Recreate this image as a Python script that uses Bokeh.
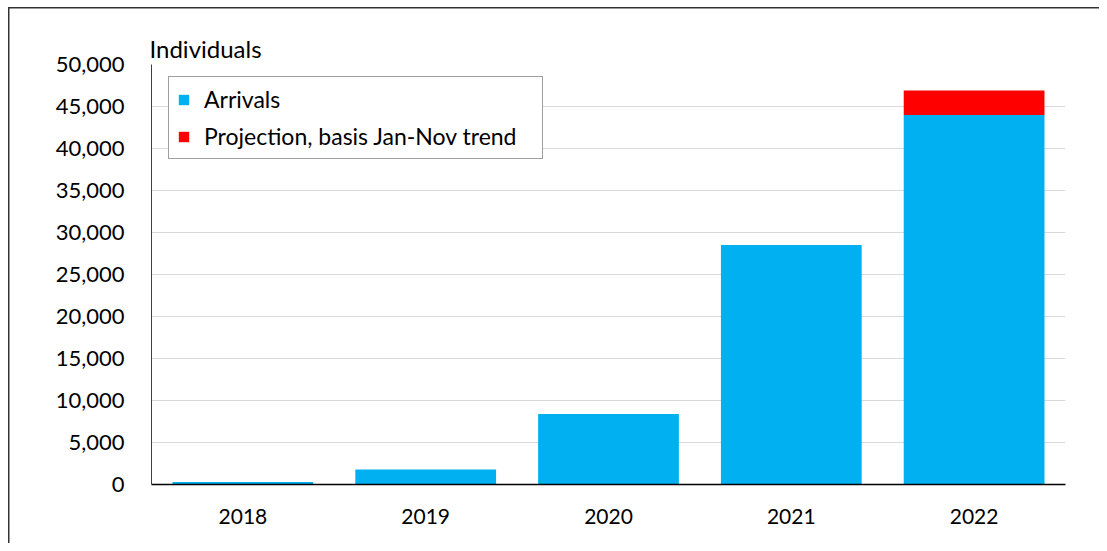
from bokeh.plotting import figure
from bokeh.models import Range1d, FixedTicker, NumeralTickFormatter, Legend, LegendItem, ColumnDataSource
from bokeh.embed import file_html
from bokeh.resources import INLINE

years = ["2018", "2019", "2020", "2021", "2022"]
arrivals = [300, 1800, 8400, 28500, 44000]
projection = [0, 0, 0, 0, 2900]
y_ticks = [0, 5000, 10000, 15000, 20000, 25000, 30000, 35000, 40000, 45000, 50000]

FONT = "Lato"
src = ColumnDataSource(dict(years=years, arrivals=arrivals, projection=projection))

p = figure(x_range=years, width=1099, height=543, output_backend="svg",
           toolbar_location=None, min_border_left=151, min_border_right=34,
           min_border_top=64, min_border_bottom=59,
           title="Individuals")
p.border_fill_color = None
p.styles = {"background": "linear-gradient(#333,#333) 8px 7px / 1.5px 100% no-repeat, "
                          "linear-gradient(#333,#333) 8px 7px / 100% 1.5px no-repeat, #ffffff"}
p.outline_line_color = None
p.y_range = Range1d(0, 50000)

p.title.align = "left"
p.title.offset = -2
p.title.standoff = 3
p.title.text_font = FONT
p.title.text_font_style = "normal"
p.title.text_font_size = "24px"
p.title.text_color = "#000000"

rs = p.vbar_stack(["arrivals", "projection"], x="years", width=0.77, source=src,
                  color=["#00B0F0", "#FF0000"], line_color=None)

p.yaxis.ticker = FixedTicker(ticks=y_ticks)
p.yaxis.formatter = NumeralTickFormatter(format="0,0")
p.xgrid.grid_line_color = None
p.ygrid.grid_line_color = "#D9D9D9"
p.ygrid.grid_line_width = 1

for ax in (p.xaxis[0], p.yaxis[0]):
    ax.major_tick_line_color = None
    ax.minor_tick_line_color = None
    ax.major_label_text_font = FONT
    ax.major_label_text_color = "#000000"
p.yaxis.major_label_text_font_size = "22px"
p.xaxis.major_label_text_font_size = "21px"
p.yaxis.axis_line_color = "#404040"
p.yaxis.axis_line_width = 1
p.yaxis.major_label_standoff = 21
p.xaxis.axis_line_color = "#000000"
p.xaxis.axis_line_width = 1.5
p.xaxis.major_label_standoff = 18

legend = Legend(items=[LegendItem(label="Arrivals", renderers=[rs[0]]),
                       LegendItem(label="Projection, basis Jan-Nov trend", renderers=[rs[1]])],
                location=(17, 325))
legend.label_text_font = FONT
legend.label_text_font_size = "23px"
legend.label_text_line_height = 1.0
legend.label_text_color = "#000000"
legend.glyph_width = 13
legend.glyph_height = 13
legend.label_height = 20
legend.label_width = 330
legend.label_standoff = 14
legend.spacing = 9
legend.padding = 8
legend.margin = 0
legend.border_line_color = "#404040"
legend.border_line_width = 1
legend.background_fill_alpha = 1
p.add_layout(legend)

open("out.html", "w").write(file_html(p, INLINE))
